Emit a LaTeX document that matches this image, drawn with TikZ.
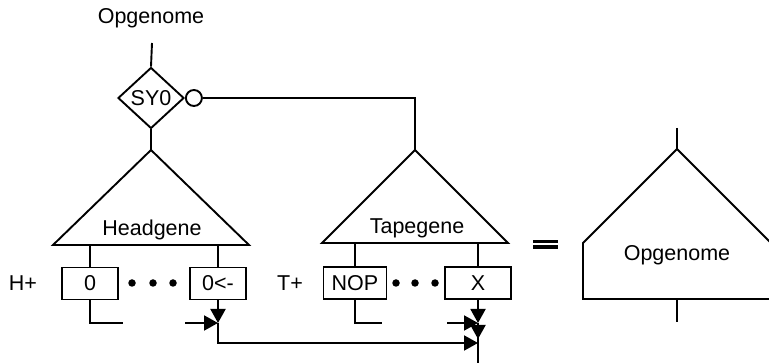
\documentclass[tikz,border=0pt]{standalone}
\usepackage{fontspec}
\setmainfont{Liberation Sans}
\usetikzlibrary{shapes.geometric,arrows.meta}
\begin{document}
\begin{tikzpicture}[x=1pt,y=-1pt,line width=1.9pt,
  font=\fontsize{21.5}{24}\selectfont,
  lbl/.style={inner sep=0pt},
  gbox/.style={draw,minimum height=32pt,inner sep=0pt},
  tip/.style={-{Triangle[length=14pt,width=15pt]}},
  dot/.style={circle,fill,inner sep=0pt,minimum size=7.5pt}]
\useasboundingbox (0,0) rectangle (769,363);

% --- operator genome: SY0 switch over head gene and tape gene ---
\node[lbl] (toplbl) at (151,18) {Opgenome};
\coordinate (toptail) at (152,43);
\node[draw,diamond,minimum width=66pt,minimum height=61pt,inner sep=0pt] (sy0) at (151,98) {SY0};
\draw (toptail) -- (sy0.north);
\node[draw,circle,minimum size=16pt,inner sep=0pt,anchor=west] (inv) at (sy0.east) {};

% head gene
\coordinate (hapex) at (151,150);
\coordinate (hbl) at (53,245);
\coordinate (hbr) at (249,245);
\draw (sy0.south) -- (hapex);
\draw[line join=miter] (hapex) -- (hbl) -- (hbr) -- cycle;
\node[lbl] (hg) at (152,230) {Headgene};

% tape gene
\coordinate (tapex) at (415,150);
\coordinate (tbl) at (322,243);
\coordinate (tbr) at (508,243);
\draw (inv.east) -| (tapex);
\draw[line join=miter] (tapex) -- (tbl) -- (tbr) -- cycle;
\node[lbl] (tg) at (417,228) {Tapegene};

% gene cells
\node[lbl] (hplus) at (23,283) {H+};
\node[gbox,minimum width=56pt] (b0) at (90,283.5) {0};
\node[gbox,minimum width=56pt] (bh) at (218,283.5) {0<-};
\node[dot] (d1) at (132,283) {};
\node[dot] (d2) at (153,283) {};
\node[dot] (d3) at (173,283) {};
\node[lbl] (tplus) at (290,283) {T+};
\node[gbox,minimum width=63pt] (bn) at (355,283) {NOP};
\node[gbox,minimum width=66pt] (bx) at (478,283) {X};
\node[dot] (d4) at (396,283) {};
\node[dot] (d5) at (415,283) {};
\node[dot] (d6) at (435,283) {};

\draw (b0.north |- hbl) -- (b0.north);
\draw (bh.north |- hbr) -- (bh.north);
\draw (bn.north |- tbl) -- (bn.north);
\draw (bx.north |- tbr) -- (bx.north);

% outputs of the cells
\coordinate (e0) at (123,323);
\coordinate (f1) at (185,323);
\coordinate (j1) at (218,323);
\coordinate (en) at (382,323);
\coordinate (f2) at (447,323);
\coordinate (j2) at (478,323);
\coordinate (j2b) at (478,339);
\coordinate (j3) at (478,343);
\coordinate (out) at (478,363);

\draw (b0.south) |- (e0);
\draw[tip] (bh.south) -- (j1);
\draw[tip] (f1) -- (j1);
\draw[tip] (j1) |- (j3);
\draw (bn.south) |- (en);
\draw (j2) -- (out);
\draw[tip] (bx.south) -- (j2);
\draw[tip] (f2) -- (j2);
\draw[tip] (j2) -- (j2b);

% equals sign
\fill (533,240) rectangle (558,243.5);
\fill (533,245.5) rectangle (558,249);

% --- equivalent compact operator genome ---
\coordinate (pa) at (677,149);
\coordinate (pl) at (583,243);
\coordinate (pr) at (771,243);
\coordinate (prb) at (771,299);
\coordinate (plb) at (583,299);
\coordinate (pin) at (677,128);
\coordinate (pout) at (677,322);
\draw[line join=miter] (pa) -- (pr) -- (prb) -- (plb) -- (pl) -- cycle;
\draw (pin) -- (pa);
\draw (pout |- plb) -- (pout);
\node[lbl] (og) at (677,255) {Opgenome};
\end{tikzpicture}
\end{document}
